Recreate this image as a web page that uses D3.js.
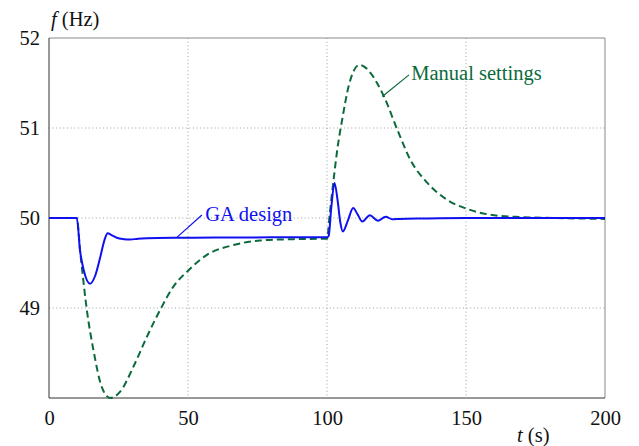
<!DOCTYPE html>
<html>
<head>
<meta charset="utf-8">
<script src="https://cdn.jsdelivr.net/npm/d3@7"></script>
</head>
<body style="margin:0">
<svg id="chart" width="639" height="446"></svg>
<script>
// time axis (s) and frequency (Hz)
const gaTime = [0, 10, 11.2, 12.5, 14.8, 16.5, 18.4, 20, 21.1, 22.5, 24.4, 27, 29.2, 32, 35.2, 46, 60, 80, 100,
  100.6, 101.5, 102.7, 103.8, 104.8, 105.7, 107.5, 109.4, 111, 112.7, 115.4, 118.3, 121.1, 123.5, 126, 135, 150, 175, 200];
const gaFreq = [50, 50, 49.63, 49.42, 49.27, 49.35, 49.56, 49.76, 49.83, 49.81, 49.78, 49.765, 49.76, 49.77, 49.775, 49.78, 49.782, 49.785, 49.785,
  49.80, 50.1, 50.39, 50.2, 49.95, 49.85, 49.97, 50.11, 50.04, 49.96, 50.03, 49.97, 50.015, 49.985, 49.99, 49.995, 50.0, 50.0, 50.0];

const manTime = [0, 10, 11.2, 11.8, 13.6, 16, 19, 22, 25.6, 30.4, 35.2, 40, 44.8, 50.2, 56.8, 66.4, 76, 88, 100,
  101, 102.5, 103.7, 105.5, 107.9, 109.7, 111.5, 113.5, 115.7, 118, 120.5, 125.3, 130.1, 136.1, 143.3, 150.5, 160.1, 169.7, 181.6, 200];
const manFreq = [50, 50, 49.63, 49.46, 48.98, 48.53, 48.12, 48.0, 48.07, 48.35, 48.68, 48.98, 49.24, 49.42, 49.59, 49.70, 49.75, 49.765, 49.77,
  50.05, 50.46, 50.76, 51.1, 51.48, 51.64, 51.7, 51.68, 51.61, 51.5, 51.35, 50.98, 50.64, 50.39, 50.2, 50.1, 50.03, 50.01, 50.0, 49.99];

const xTicks = [0, 50, 100, 150, 200];
const yTicks = [49, 50, 51, 52];
const xGrid = [50, 100, 150];
const yGrid = [49, 50, 51];

const font = '"Liberation Serif"';
const fontSize = "20.5px";

const svg = d3.select("#chart");
const margin = {top: 38, right: 34, bottom: 48, left: 49};
const width = 639 - margin.left - margin.right;
const height = 446 - margin.top - margin.bottom;

const x = d3.scaleLinear().domain([0, 200]).range([0, width]);
const y = d3.scaleLinear().domain([48, 52]).range([height, 0]);

const g = svg.append("g").attr("transform", `translate(${margin.left},${margin.top})`);

// dotted grid
g.selectAll(".gx").data(xGrid).enter().append("line")
  .attr("x1", d => x(d)).attr("x2", d => x(d))
  .attr("y1", 0).attr("y2", height)
  .attr("stroke", "#a0a0a0").attr("stroke-dasharray", "1,2.6");
g.selectAll(".gy").data(yGrid).enter().append("line")
  .attr("x1", 0).attr("x2", width)
  .attr("y1", d => y(d)).attr("y2", d => y(d))
  .attr("stroke", "#a0a0a0").attr("stroke-dasharray", "1,2.6");

// frame
g.append("line").attr("x1", 0).attr("x2", width).attr("y1", 0).attr("y2", 0).attr("stroke", "#8a8a8a");
g.append("line").attr("x1", width).attr("x2", width).attr("y1", 0).attr("y2", height).attr("stroke", "#8a8a8a");
g.append("line").attr("x1", 0).attr("x2", 0).attr("y1", 0).attr("y2", height).attr("stroke", "#333");
g.append("line").attr("x1", 0).attr("x2", width).attr("y1", height).attr("y2", height).attr("stroke", "#333");

// axes (labels only)
const xAxis = g.append("g").attr("transform", `translate(0,${height})`)
  .call(d3.axisBottom(x).tickValues(xTicks).tickSize(0).tickPadding(12).tickFormat(d3.format("d")));
const yAxis = g.append("g")
  .call(d3.axisLeft(y).tickValues(yTicks).tickSize(0).tickPadding(9).tickFormat(d3.format("d")));
[xAxis, yAxis].forEach(a => {
  a.attr("font-family", null).attr("font-size", null);
  a.select(".domain").remove();
  a.selectAll("text").style("font-family", font).style("font-size", fontSize).attr("fill", "#111");
});

// axis titles
const ft = svg.append("text").attr("x", 51).attr("y", 26).attr("fill", "#111")
  .style("font-family", font).style("font-size", fontSize);
ft.append("tspan").attr("font-style", "italic").text("f");
ft.append("tspan").text(" (Hz)");
const tt = svg.append("text").attr("x", 517).attr("y", 442).attr("fill", "#111")
  .style("font-family", font).style("font-size", fontSize);
tt.append("tspan").attr("font-style", "italic").text("t");
tt.append("tspan").text(" (s)");

// curves
const line = d3.line().x(d => x(d[0])).y(d => y(d[1])).curve(d3.curveMonotoneX);
const green = "#0b6a3b";
const blue = "#1010f0";

g.append("path").datum(d3.zip(manTime, manFreq))
  .attr("d", line).attr("fill", "none")
  .attr("stroke", green).attr("stroke-width", 2).attr("stroke-dasharray", "7,4");
g.append("path").datum(d3.zip(gaTime, gaFreq))
  .attr("d", line).attr("fill", "none")
  .attr("stroke", blue).attr("stroke-width", 2);

// annotations
g.append("line").attr("x1", x(46)).attr("y1", y(49.785)).attr("x2", x(55)).attr("y2", y(50.033))
  .attr("stroke", blue).attr("stroke-width", 1.2);
g.append("text").attr("x", x(56.2)).attr("y", y(49.97))
  .style("font-family", font).style("font-size", fontSize)
  .attr("fill", blue).text("GA design");

g.append("line").attr("x1", x(119.9)).attr("y1", y(51.35)).attr("x2", x(129.5)).attr("y2", y(51.59))
  .attr("stroke", green).attr("stroke-width", 1.2);
g.append("text").attr("x", x(130.3)).attr("y", y(51.53))
  .style("font-family", font).style("font-size", fontSize)
  .attr("fill", green).text("Manual settings");
</script>
</body>
</html>
